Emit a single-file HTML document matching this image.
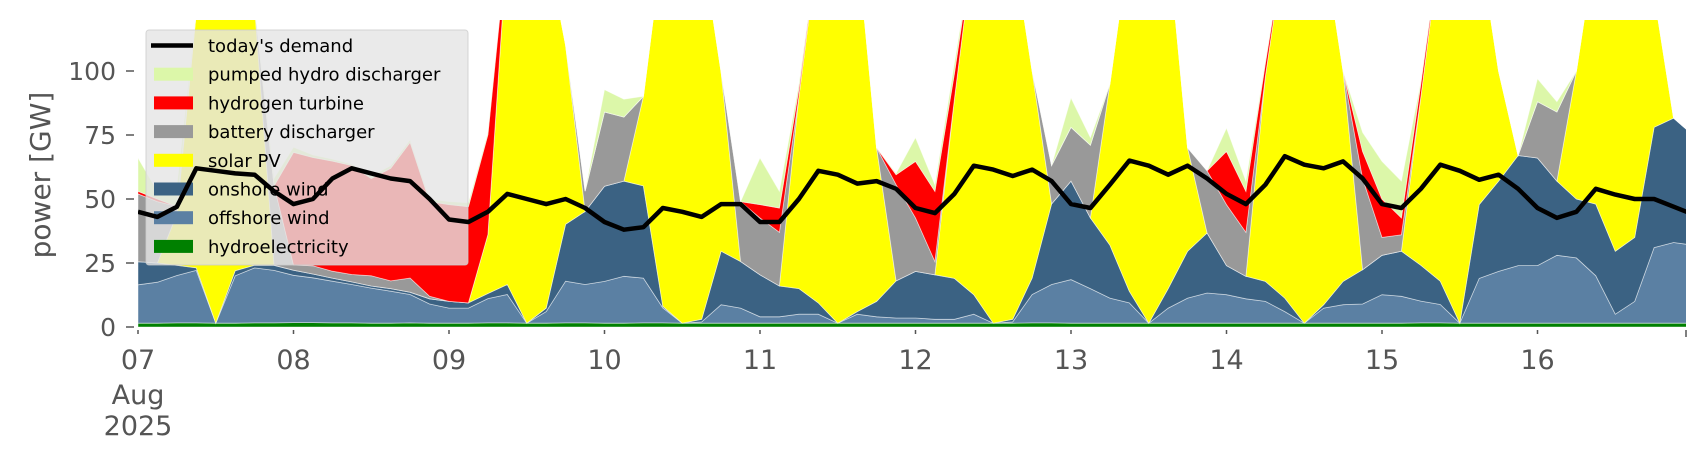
<!DOCTYPE html>
<html><head><meta charset="utf-8"><style>
html,body{margin:0;padding:0;background:#fff;}
svg{display:block;font-family:"DejaVu Sans","Liberation Sans",sans-serif;}
</style></head><body>
<svg id="chart" width="1706" height="460" viewBox="0 0 1706 460" xmlns="http://www.w3.org/2000/svg">
<defs><clipPath id="pc"><rect x="138" y="20" width="1548" height="308"/></clipPath></defs>
<g id="areas" clip-path="url(#pc)"></g>
<g id="legend"></g>
<g id="demandg" clip-path="url(#pc)"></g>
<g id="axes"></g>
<text x="0" y="0" transform="translate(50,175) rotate(-90)" text-anchor="middle" font-size="28" fill="#555">power [GW]</text>
</svg>
<script>
// 3-hourly samples starting 07 Aug 00:00
const stepHours = 3;
const hydro = [1.5,1.5,1.6,1.6,1.5,1.5,1.6,1.6,1.7,1.7,1.6,1.6,1.5,1.5,1.6,1.5,1.5,1.5,1.6,1.6,1.5,1.5,1.6,1.6,1.5,1.5,1.6,1.6,1.5,1.5,1.5,1.5,1.5,1.5,1.5,1.5,1.5,1.5,1.5,1.5,1.5,1.5,1.5,1.5,1.5,1.5,1.6,1.6,1.5,1.5,1.5,1.5,1.5,1.5,1.5,1.5,1.5,1.5,1.5,1.5,1.5,1.5,1.5,1.5,1.5,1.5,1.6,1.6,1.5,1.5,1.5,1.5,1.5,1.5,1.5,1.5,1.5,1.5,1.5,1.5,1.5];
const offshore = [15,16,18.5,20.5,0,18.5,21.5,20.5, 18.5,17.5,16.3,15,13.7,12.5,11.1,7.5, 5.9,5.9,9.5,11.1,0,4.5,16.3,15, 16.3,18.3,17.5,5.9,0,0.5,7.2,5.9, 2.5,2.5,3.5,3.5,0,3.5,2.5,2, 2,1.5,1.5,3.5,0,0.5,11.1,15, 17,13.5,9.8,7.9,0,5.9,9.8,11.8, 11.1,9.5,8.5,4.5,0,5.9,7.2,7.5, 11.1,10.5,8.5,7.2,0,17.5,20.2,22.5, 22.5,26.5,25.5,18.5,3.5,8.5,29.5,31.5,30.5];
const onshore = [9,7.5,4,1,0,2,1,2, 2,1.5,1.2,1,0.8,1,0.9,2, 2.6,2,2,3.9,0,1.4,22.2,28.5, 37.2,37.2,36,0.6,0,1,20.9,18.2, 16.4,12,10,4.4,0,1,6,14.5, 18.2,17.4,16,7.6,0,1,6.4,31.5, 38.5,27.6,20.7,4.6,0,7.6,18.3,23.4, 11.4,8.8,7.8,5.3,0,1.3,9.1,13.4, 15.4,17.6,14,9.1,0,28.8,35.3,43, 42,29,23,28,24.6,25,47,48.6,43];
const solar = [0,0,20,100,150,128,101,0, 0,0,0,0,0,0,0,0, 0,0,23,133.5,150,142.6,70,0, 0,0,35,142,150,147,70,0, 0,0,75,140.6,150,144,60,0, 0,0,70,137.4,150,147,81,0, 0,0,63,136,150,135,40.4,0, 0,0,80.2,138.7,150,141.3,82.2,0, 0,0,66,132.2,150,102.2,43,0, 0,0,50,102,120.4,115,52,0,0];
const battery = [26.5,24,3,0,0,0,0,31, 2,3.2,2.7,2.9,4,3,5.5,1, 0,0,0,0,0,0,0,8, 29,25,0,0,0,0,0,23.4, 22.2,21,0,0,0,0,0,37.6, 20.9,5.2,0,0,0,0,0,15, 21,28.4,0,0,0,0,0,24.3, 23.8,17.2,0,0,0,0,0,35.6, 7,6.4,0,0,0,0,0,0, 22,27,0,0,0,0,0,0,0];
const hydrogen = [1,1,0,0,0,0,0,0, 44,42.3,43,42.6,38,44,53,37, 37.8,37.6,39,0,0,0,0,0, 0,0,0,0,0,0,0,0, 5.2,9.5,3,0,0,0,0,3.9, 22.1,27.4,10,0,0,0,0,0, 0,0,0,0,0,0,0,0, 20.8,16,5,0,0,0,0,10.6, 15,6.6,5,0,0,0,0,0, 0,0,0,0,0,0,0,0,0];
const pumpedHydro = [13,3,8,0,0,0,0,3, 2,1,0.8,0.5,1,1,1,1, 1.2,1.5,1,0,0,0,0,0, 8.7,7,0,0,0,0,0,0, 18.2,6.5,2,0,0,0,0,0.5, 9.3,2.6,4,0,0,0,0,0, 11.5,3,0,0,0,0,0,0, 9.1,4,1,0,0,0,0,7.4, 14.7,14.4,1,0,0,0,0,0, 9,4,0,0,0,0,0,0,0];
const demand = [45,43,47,62,61,60,59.5,53, 48,50,58,62,60,58,57,50, 42,41,45,52,50,48,50,46.5, 41,38,39,46.5,45,43,48,48, 41,41,50,61,59.5,56,57,54, 46.5,44.5,52,63,61.5,59,61.5,57, 48,46.5,55.6,65,63,59.5,63,58, 52,48,55.6,66.7,63.4,62,64.7,58, 48,46.5,54,63.4,61,57.5,59.5,54, 46.5,42.6,45,54,51.7,50,50,47,44];
const xTickLabels = ["07","08","09","10","11","12","13","14","15","16"];
const yTicks = [0,25,50,75,100];
const seriesNames = ["hydroelectricity","offshore wind","onshore wind","solar PV","battery discharger","hydrogen turbine","pumped hydro discharger"];

const NS = "http://www.w3.org/2000/svg";
const X0 = 138, DAYW = 155.5, Y0 = 327, PXGW = 2.56;
function xs(h){ return X0 + h * DAYW / 24; }
function ys(v){ return Y0 - v * PXGW; }
function mk(tag, attrs, parent){ const e = document.createElementNS(NS, tag); for (const k in attrs) e.setAttribute(k, attrs[k]); parent.appendChild(e); return e; }

const series = [hydro, offshore, onshore, solar, battery, hydrogen, pumpedHydro];
const colors = ["#008000","#5b80a3","#3b6283","#ffff00","#999999","#ff0000","#dcf7a9"];
const keys = ["hydroelectricity","offshore-wind","onshore-wind","solar-pv","battery-discharger","hydrogen-turbine","pumped-hydro-discharger"];
const areas = document.getElementById("areas");
let base = hydro.map(() => 0);
series.forEach((s, si) => {
  const top = base.map((b, i) => b + s[i]);
  let d = "";
  top.forEach((v, i) => { d += (i ? "L" : "M") + xs(i * stepHours).toFixed(1) + "," + ys(v).toFixed(1); });
  for (let i = base.length - 1; i >= 0; i--) d += "L" + xs(i * stepHours).toFixed(1) + "," + ys(base[i]).toFixed(1);
  d += "Z";
  const p = mk("path", {d: d, fill: colors[si], stroke: "rgba(255,255,255,0.55)", "stroke-width": "0.8"}, areas);
  
  
  base = top;
});

// demand line
const dg = document.getElementById("demandg");
let dd = "";
demand.forEach((v, i) => { dd += (i ? "L" : "M") + xs(i * stepHours).toFixed(1) + "," + ys(v).toFixed(1); });
const dl = mk("path", {d: dd, fill: "none", stroke: "#000", "stroke-width": "4.5", "stroke-linejoin": "round"}, dg);



// legend
const lg = document.getElementById("legend");
const box = mk("rect", {x: 146, y: 30, width: 322, height: 235, rx: 3, fill: "rgba(229,229,229,0.8)", stroke: "rgba(204,204,204,0.8)", "stroke-width": 1}, lg);


const legItems = ["today's demand"].concat(seriesNames.slice().reverse());
const legColors = ["#000"].concat(colors.slice().reverse());
legItems.forEach((name, i) => {
  const cy = 45.5 + i * 28.7;
  let h;
  if (i === 0) h = mk("line", {x1: 151, x2: 193, y1: cy, y2: cy, stroke: "#000", "stroke-width": 4.5}, lg);
  else h = mk("rect", {x: 154, y: cy - 6.5, width: 39, height: 13, fill: legColors[i]}, lg);
  
  
  const t = mk("text", {x: 208, y: cy + 6.5, "font-size": 18, fill: "#000"}, lg);
  t.textContent = name;
  
  
});

// axes
const ax = document.getElementById("axes");
yTicks.forEach(v => {
  const y = ys(v);
  const tk = mk("line", {x1: 126, x2: 134, y1: y, y2: y, stroke: "#555", "stroke-width": 1.5}, ax);
  
  
  const t = mk("text", {x: 116, y: y + 9, "font-size": 25, fill: "#555", "text-anchor": "end"}, ax);
  t.textContent = String(v);
  
  
});
xTickLabels.forEach((lab, i) => {
  const x = xs(i * 24);
  const tk = mk("line", {x1: x, x2: x, y1: 330, y2: 334, stroke: "#555", "stroke-width": 1.5}, ax);
  
  
  const t = mk("text", {x: x, y: 369, "font-size": 27, fill: "#555", "text-anchor": "middle"}, ax);
  t.textContent = lab;
  
  
});
const endTick = mk("line", {x1: 1686, x2: 1686, y1: 330, y2: 337, stroke: "#555", "stroke-width": 1.5}, ax);


["Aug","2025"].forEach((s, i) => {
  const t = mk("text", {x: xs(0), y: 404 + i * 31, "font-size": 27, fill: "#555", "text-anchor": "middle"}, ax);
  t.textContent = s;
  
  
});
</script>
</body></html>
